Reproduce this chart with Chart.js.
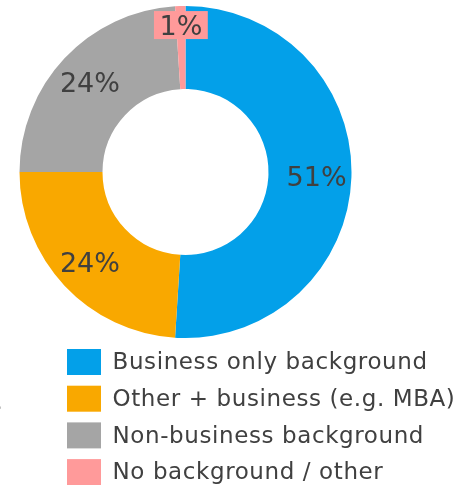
<!DOCTYPE html>
<html>
<head>
<meta charset="utf-8">
<script src="https://cdn.jsdelivr.net/npm/chart.js@4/dist/chart.umd.min.js"></script>
<style>
  html, body { margin: 0; padding: 0; background: #ffffff; }
  #wrap { width: 474px; height: 485px; position: relative; }
</style>
</head>
<body>
<div id="wrap"><canvas id="c" width="474" height="485"></canvas></div>
<script>
// Background of respondents
const categories = [
  'Business only background',
  'Other + business (e.g. MBA)',
  'Non-business background',
  'No background / other'
];
const shares = [51, 24, 24, 1];
const sliceColors = ['#03A0E9', '#F9A800', '#A5A5A5', '#FF9A9A'];

const FONT = '"DejaVu Sans", Verdana, sans-serif';
const TEXT = '#404040';

// Percentage labels placed inside each ring segment
const sliceLabels = {
  id: 'sliceLabels',
  afterDatasetsDraw(chart) {
    const ctx = chart.ctx;
    const meta = chart.getDatasetMeta(0);
    const data = chart.data.datasets[0].data;
    const total = data.reduce((a, b) => a + b, 0);
    ctx.save();
    ctx.font = '27px ' + FONT;
    ctx.textAlign = 'center';
    ctx.textBaseline = 'alphabetic';
    meta.data.forEach((arc, i) => {
      const p = arc.getProps(['x', 'y', 'startAngle', 'endAngle', 'innerRadius', 'outerRadius'], true);
      const mid = (p.startAngle + p.endAngle) / 2;
      const pct = Math.round(data[i] / total * 100);
      const txt = pct + '%';
      const small = pct < 3;
      const r = small ? p.outerRadius - 19 : p.innerRadius + (p.outerRadius - p.innerRadius) * 0.58;
      const x = p.x + Math.cos(mid) * r;
      const y = p.y + Math.sin(mid) * r;
      if (small) {
        const w = ctx.measureText(txt).width + 11;
        ctx.fillStyle = chart.data.datasets[0].backgroundColor[i];
        ctx.fillRect(x - w / 2, y - 14, w, 28);
      }
      ctx.fillStyle = TEXT;
      ctx.fillText(txt, x, y + 10);
    });
    ctx.restore();
  }
};

// Vertical legend below the ring
const sideLegend = {
  id: 'sideLegend',
  afterDraw(chart) {
    const ctx = chart.ctx;
    const colors = chart.data.datasets[0].backgroundColor;
    ctx.save();
    ctx.font = '23px ' + FONT;
    ctx.letterSpacing = '0.6px';
    ctx.textAlign = 'left';
    ctx.textBaseline = 'alphabetic';
    chart.data.labels.forEach((lab, i) => {
      const y = 349 + i * 36.7;
      ctx.fillStyle = colors[i];
      ctx.fillRect(67, y, 34, 26);
      ctx.fillStyle = TEXT;
      ctx.fillText(lab, 112.5, y + 20.3);
    });
    // trailing punctuation at the left margin
    ctx.letterSpacing = '0px';
    ctx.textAlign = 'right';
    ctx.fillText(',', 2.5, 409);
    ctx.restore();
  }
};

new Chart(document.getElementById('c'), {
  type: 'doughnut',
  data: {
    labels: categories,
    datasets: [{
      data: shares,
      backgroundColor: sliceColors,
      borderWidth: 0
    }]
  },
  options: {
    responsive: false,
    animation: false,
    cutout: '50%',
    layout: { padding: { left: 19, right: 122, top: 6, bottom: 147 } },
    plugins: {
      legend: { display: false },
      tooltip: { enabled: false }
    }
  },
  plugins: [sliceLabels, sideLegend]
});
</script>
</body>
</html>
